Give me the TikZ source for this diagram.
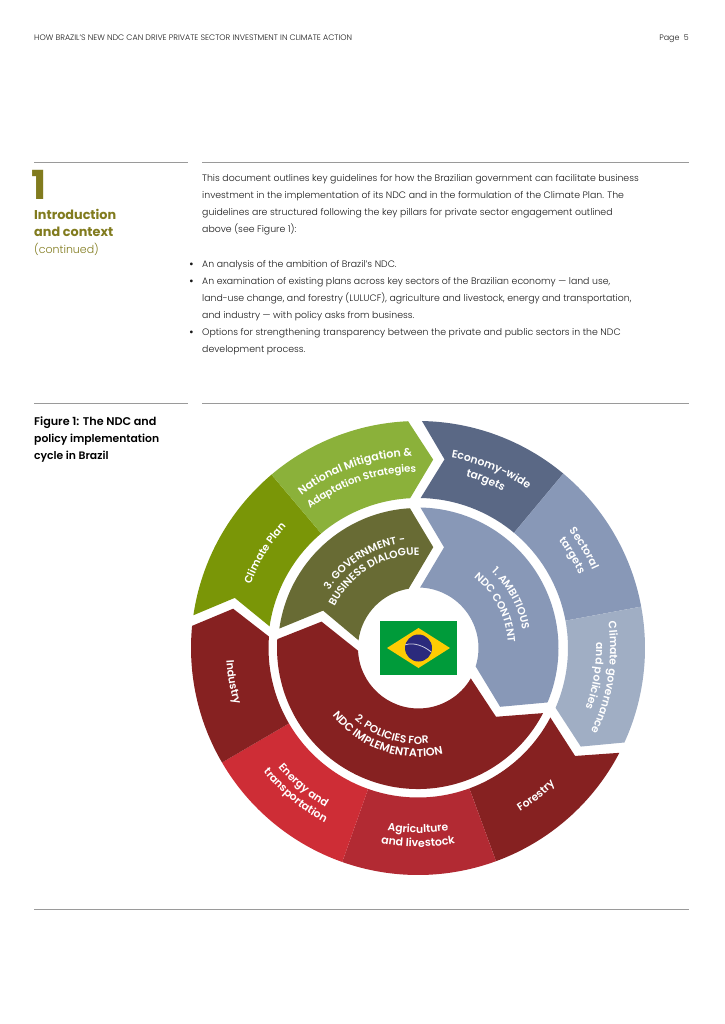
\documentclass[tikz,border=0pt]{standalone}
\usepackage{fontspec}
\setmainfont{Poppins}[UprightFont=* Light,BoldFont=* Bold]
\newfontfamily\wheelfont{Poppins SemiBold}
\newfontfamily\figfont{Poppins SemiBold}
\usetikzlibrary{decorations.text}
\definecolor{olivehead}{HTML}{817B1E}
\definecolor{ruleline}{HTML}{9A9A9A}
\definecolor{planGreen}{HTML}{7A9607}
\definecolor{mitigGreen}{HTML}{8BB13A}
\definecolor{dialogueOlive}{HTML}{686B34}
\definecolor{econBlue}{HTML}{5A6885}
\definecolor{sectorBlue}{HTML}{8898B7}
\definecolor{govBlue}{HTML}{A0AEC4}
\definecolor{forestRed}{HTML}{862121}
\definecolor{agriRed}{HTML}{B22A33}
\definecolor{energyRed}{HTML}{CE2D36}
\definecolor{flagGreen}{HTML}{009B3A}
\definecolor{flagYellow}{HTML}{FECC02}
\definecolor{flagBlue}{HTML}{2B2A7C}
\tikzset{
	bodyline/.style={anchor=base west,inner sep=0pt,text=black!90,font=\fontsize{9.35}{11}\selectfont},
	headline/.style={anchor=base west,inner sep=0pt,text=black!90,font=\fontsize{7.95}{9}\selectfont},
	sideline/.style={anchor=base west,inner sep=0pt,text=olivehead,font=\fontsize{12.8}{14}\selectfont\bfseries},
	figline/.style={anchor=base west,inner sep=0pt,text=black,font=\fontsize{10.8}{12}\figfont},
	rulestyle/.style={draw=ruleline,line width=0.7pt},
	arctext/.style={decorate,decoration={text along path,text align=center,text color=white,text={|\wheelfont\fontsize{#1}{#1}\selectfont|\wheeltext}}}
}
\newcommand{\wheeltext}{}
% text on a circle round the wheel centre: size, middle angle, radius, text
\newcommand{\overarc}[4]{\renewcommand{\wheeltext}{#4}\path[arctext=#1] (#2+75:#3) arc[start angle=#2+75,end angle=#2-75,radius=#3];}
\newcommand{\underarc}[4]{\renewcommand{\wheeltext}{#4}\path[arctext=#1] (#2-75:#3) arc[start angle=#2-75,end angle=#2+75,radius=#3];}
\begin{document}
\begin{tikzpicture}[x=1pt,y=-1pt]
	\useasboundingbox (0,0) rectangle (724,1024);
	% header
	\node[headline] (header) at (34,41) {HOW BRAZIL'S NEW NDC CAN DRIVE PRIVATE SECTOR INVESTMENT IN CLIMATE ACTION};
	\node[headline,anchor=base east] (pagenum) at (689,41) {Page\ \ 5};
	% rules
	\draw[rulestyle] (34,162) -- (188,162);
	\draw[rulestyle] (202,162) -- (689,162);
	\draw[rulestyle] (34,403.5) -- (188,403.5);
	\draw[rulestyle] (202,403.5) -- (689,403.5);
	\draw[rulestyle] (34,909) -- (689,909);
	% left column
	\node[sideline,font=\fontsize{40}{40}\selectfont\bfseries] (chapter) at (31,200) {1};
	\node[sideline] (intro) at (34,219.5) {Introduction};
	\node[sideline] (context) at (34,236.5) {and context};
	\node[sideline,font=\fontsize{11}{12}\selectfont] (continued) at (34,253) {(continued)};
	\node[figline,font=\fontsize{11.2}{12}\figfont] (figa) at (34,425) {Figure 1: The NDC and};
	\node[figline] (figb) at (34,442) {policy implementation};
	\node[figline] (figc) at (34,459) {cycle in Brazil};
	% body text
	\node[bodyline] (la) at (202,182) {This document outlines key guidelines for how the Brazilian government can facilitate business};
	\node[bodyline] (lb) at (202,199) {investment in the implementation of its NDC and in the formulation of the Climate Plan. The};
	\node[bodyline] (lc) at (202,216) {guidelines are structured following the key pillars for private sector engagement outlined};
	\node[bodyline] (ld) at (202,233) {above (see Figure 1):};
	\node[bodyline,font=\fontsize{9.3}{11}\selectfont\bfseries] (ba) at (189,267) {•};
	\node[bodyline] (le) at (202,267) {An analysis of the ambition of Brazil's NDC.};
	\node[bodyline,font=\fontsize{9.3}{11}\selectfont\bfseries] (bb) at (189,284) {•};
	\node[bodyline] (lf) at (202,284) {An examination of existing plans across key sectors of the Brazilian economy — land use,};
	\node[bodyline] (lg) at (202,301) {land-use change, and forestry (LULUCF), agriculture and livestock, energy and transportation,};
	\node[bodyline] (lh) at (202,318) {and industry — with policy asks from business.};
	\node[bodyline,font=\fontsize{9.3}{11}\selectfont\bfseries] (bc) at (189,335) {•};
	\node[bodyline] (li) at (202,335) {Options for strengthening transparency between the private and public sectors in the NDC};
	\node[bodyline] (lj) at (202,352) {development process.};
	% wheel
	\begin{scope}[shift={(418,648)},x=1pt,y=1pt]
		% outer ring
		\fill[planGreen] (171.7:227) arc[start angle=171.7,end angle=130.2,radius=227] -- (130.2:150) arc[start angle=130.2,end angle=171.7,radius=150] -- (164.7:190) -- cycle;
		\fill[mitigGreen] (130.2:227) arc[start angle=130.2,end angle=92.5,radius=227] -- (85.4:189) -- (93:150) arc[start angle=93,end angle=130.2,radius=150] -- cycle;
		\fill[econBlue] (89:227) arc[start angle=89,end angle=50.2,radius=227] -- (50.2:150) arc[start angle=50.2,end angle=89,radius=150] -- (82:190.5) -- cycle;
		\fill[sectorBlue] (50.2:227) arc[start angle=50.2,end angle=10.5,radius=227] -- (10.5:150) arc[start angle=10.5,end angle=50.2,radius=150] -- cycle;
		\fill[govBlue] (10.5:227) arc[start angle=10.5,end angle=-24.6,radius=227] -- (-31.2:190.3) -- (-23.5:150) arc[start angle=-23.5,end angle=10.5,radius=150] -- cycle;
		\fill[forestRed] (-27.5:227) arc[start angle=-27.5,end angle=-69.9,radius=227] -- (-69.9:149.5) arc[start angle=-69.9,end angle=-27.7,radius=149.5] -- (-34.5:190.6) -- cycle;
		\fill[agriRed] (-69.9:227) arc[start angle=-69.9,end angle=-109.5,radius=227] -- (-109.5:149.5) arc[start angle=-109.5,end angle=-69.9,radius=149.5] -- cycle;
		\fill[energyRed] (-109.5:227) arc[start angle=-109.5,end angle=-149.7,radius=227] -- (-149.7:149.5) arc[start angle=-149.7,end angle=-109.5,radius=149.5] -- cycle;
		\fill[forestRed] (210.3:227) arc[start angle=210.3,end angle=174.4,radius=227] -- (168:189) -- (175.6:149.5) arc[start angle=175.6,end angle=210.3,radius=149.5] -- cycle;
		% inner ring
		\fill[dialogueOlive] (172:140) arc[start angle=172,end angle=93.3,radius=140] -- (81.4:102) -- (99:60) arc[start angle=99,end angle=172.6,radius=60] -- (158.5:102) -- cycle;
		\fill[sectorBlue] (89:140.5) arc[start angle=89,end angle=-22.8,radius=140.5] -- (-35.6:101) -- (-17.7:60.5) arc[start angle=-17.7,end angle=88,radius=60.5] -- (75.5:104) -- cycle;
		\fill[forestRed] (-27.5:141) arc[start angle=-27.5,end angle=-183.6,radius=141] -- (164.7:100) -- (182.6:60) arc[start angle=182.6,end angle=329.8,radius=60.5] -- (-41.4:104) -- cycle;
		% flag
		\fill[flagGreen] (-38,27) rectangle (39,-27);
		\fill[flagYellow] (-31,0) -- (0.5,20) -- (32,0) -- (0.5,-20) -- cycle;
		\fill[flagBlue] (0.5,0) circle (13.5);
		\draw[white!75!flagBlue,line width=0.8pt] (-12.8,3.2) .. controls (-4,6) and (6,2) .. (13.2,-4);
		% labels of the outer ring
		\overarc{10.5}{148.3}{179}{Climate Plan}
		\overarc{11.1}{109.5}{192}{National Mitigation {\&}}
		\overarc{10.2}{109.2}{176}{Adaptation Strategies}
		\overarc{10.8}{67.7}{193}{Economy-wide}
		\overarc{10.8}{68}{178}{targets}
		\overarc{10.8}{31}{191}{Sectoral}
		\overarc{10.8}{31}{177}{targets}
		\overarc{10.8}{-9}{192}{Climate governance}
		\overarc{10.8}{-9}{178}{and policies}
		\underarc{10.8}{-51.4}{193}{Forestry}
		\underarc{10.8}{-90}{185}{Agriculture}
		\underarc{11}{-90}{199}{and livestock}
		\underarc{10.8}{230.2}{184}{Energy and}
		\underarc{10.8}{230.3}{198}{transportation}
		\underarc{10.8}{190.4}{192}{Industry}
		% labels of the inner ring
		\overarc{10.5}{121.8}{106}{3. GOVERNMENT -}
		\overarc{10.6}{121.4}{93}{BUSINESS DIALOGUE}
		\overarc{10.6}{28}{106}{1. AMBITIOUS}
		\overarc{10.6}{27.5}{90}{NDC CONTENT}
		\underarc{10.6}{252.5}{96}{2. POLICIES FOR}
		\underarc{11.2}{250.8}{109}{NDC IMPLEMENTATION}
	\end{scope}
\end{tikzpicture}
\end{document}
